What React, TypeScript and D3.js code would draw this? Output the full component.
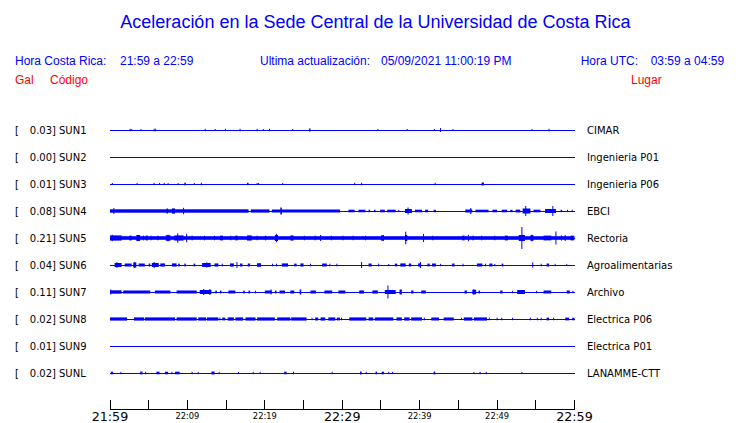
import React from "react";
import * as d3 from "d3";

// ---------- data ----------
const title = "Aceleración en la Sede Central de la Universidad de Costa Rica";
const horaCR = "21:59 a 22:59";
const horaUTC = "03:59 a 04:59";
const actualizacion = "05/09/2021 11:00:19 PM";

const codes = ["SUN1", "SUN2", "SUN3", "SUN4", "SUN5", "SUN6", "SUN7", "SUN8", "SUN9", "SUNL"];
const peakGal = ["0.03", "0.00", "0.01", "0.08", "0.21", "0.04", "0.11", "0.02", "0.01", "0.02"];
const places = [
  "CIMAR", "Ingenieria P01", "Ingenieria P06", "EBCI", "Rectoria",
  "Agroalimentarias", "Archivo", "Electrica P06", "Electrica P01", "LANAMME-CTT",
];

// time axis: minutes after 21:59
const tickMinutes = [0, 5, 10, 15, 20, 25, 30, 35, 40, 45, 50, 55, 60];
const tickLabels: Record<number, string> = { 0: "21:59", 10: "22:09", 20: "22:19", 30: "22:29", 40: "22:39", 50: "22:49", 60: "22:59" };
const majorLabels = [0, 30, 60];

// envelope of each trace: [minute, amp] = single spike, [start, end, amp] = burst
type B = number[];
const sun1: B[] = [[2.6, 1.2], [2.8, 1], [4.0, 1], [5.7, 1.3], [5.9, 1.3], [12.3, 1.2], [13.6, 1], [14.9, 1.2], [16.8, 1.2], [19.0, 1.2], [19.8, 1], [20.6, 1.2], [23.6, 1], [25.7, 25.9, 1.5], [34.6, 1], [38.4, 1], [41.9, 1], [42.7, 2], [44.3, 1], [54.5, 1], [56.7, 1.3]];
const sun2: B[] = [];
const sun3: B[] = [[0.3, 1], [3.5, 1], [5.7, 1.2], [6.4, 1], [7.0, 1.2], [7.5, 1], [8.8, 1], [9.6, 9.8, 1.3], [10.9, 1], [11.8, 1.3], [17.7, 17.9, 1.2], [19.0, 1], [19.2, 1], [22.3, 1], [31.6, 1.2], [32.5, 1.3], [42.0, 1.2], [48.0, 48.3, 1.5]];
const sun4: B[] = [
  [0, 17.9, 1.7], [18.2, 20.6, 1.6], [20.9, 29.7, 1.5], [0.5, 3], [7.3, 7.5, 2.5], [8.0, 8.4, 2.6], [9.5, 3.2], [22.0, 22.2, 3.5],
  [30.8, 31.6, 1.3], [32.1, 33.0, 1.3], [33.4, 33.6, 1.3], [34.1, 34.3, 1.2], [34.9, 35.5, 1.3], [35.8, 36.9, 1.3], [37.3, 1.2],
  [38.1, 39.0, 2], [38.5, 3.5], [39.4, 40.3, 1.3], [40.7, 41.1, 1.3], [41.8, 42.1, 1.2],
  [45.9, 46.8, 1.5], [46.6, 3], [47.2, 48.9, 1.3], [49.4, 50.0, 1.3], [50.6, 51.3, 1.3], [51.7, 52.0, 1.2], [52.4, 53.0, 1.4],
  [53.3, 54.3, 2.5], [53.7, 5], [54.7, 55.6, 1.3], [56.2, 57.6, 2], [57.2, 5], [58.2, 58.4, 1.2], [59.1, 1.2], [59.7, 1.2],
];
const sun5: B[] = [
  [0, 60, 1.8], [0, 1.5, 2.6], [0.3, 3.2], [2.5, 2.8, 2.4], [3.4, 3.9, 3], [4.3, 2.4], [4.6, 4.9, 2.4], [5.3, 2.3], [6.2, 2.3],
  [7.2, 7.8, 2.8], [7.5, 3.4], [8.3, 9.5, 2.6], [8.75, 4.7], [9.9, 4.2], [10.6, 2.4], [12.2, 2.3], [13.5, 2.3], [14.2, 14.6, 2.4],
  [15.6, 2.3], [16.2, 16.5, 2.4], [17.7, 18.3, 2.6], [19.0, 2.3], [20.1, 2.4], [21.3, 21.7, 3], [21.5, 4.2], [23.3, 23.7, 2.6],
  [25.1, 2.3], [26.5, 2.4], [27.2, 3], [28.6, 2.3], [30.1, 2.3], [31.4, 2.3], [33.0, 2.3], [35.0, 35.4, 2.6], [35.3, 3],
  [38.1, 38.4, 3], [38.2, 6.3], [40.5, 4], [41.7, 2.3], [45.5, 45.8, 2.4], [46.3, 3.2], [46.9, 2.4], [48.0, 2.3], [49.7, 2.3],
  [51.0, 51.4, 2.4], [52.8, 53.6, 3], [53.2, 11], [54.3, 54.7, 2.8], [54.5, 3.4], [56.0, 57.0, 2.4], [57.6, 6.5], [58.3, 2.6],
  [58.8, 3], [59.5, 59.9, 2.4],
];
const sun6: B[] = [
  [0.6, 1.5, 2], [0.9, 3], [1.9, 2.8, 1.5], [3.0, 3.4, 2.5], [3.2, 3], [3.7, 4.5, 1.5], [5.0, 5.2, 1.5], [5.4, 6.3, 2], [5.7, 3],
  [6.5, 7.1, 1.6], [8.0, 8.6, 1.6], [8.8, 9.0, 1.4], [9.6, 9.8, 1.4], [10.8, 11.0, 1.4], [11.9, 13.0, 2], [12.5, 2.6],
  [13.5, 14.0, 1.6], [14.5, 1.4], [15.5, 16.0, 1.6], [16.4, 3], [16.8, 17.1, 1.5], [17.8, 18.1, 1.5], [19.0, 19.5, 1.8],
  [21.0, 1.3], [21.5, 1.3], [22.2, 23.0, 1.6], [23.8, 24.1, 1.4], [24.6, 25.0, 1.6], [25.9, 1.3], [27.4, 28.0, 1.5], [28.4, 1.3],
  [29.3, 1.3], [32.5, 3], [33.4, 33.8, 1.5], [34.7, 1.4], [36.0, 1], [36.8, 37.1, 1.4], [37.5, 38.2, 1.6], [38.6, 38.9, 1.5],
  [39.8, 40.2, 1.6], [40.1, 3], [41.0, 41.3, 1.4], [41.6, 42.1, 1.5], [42.7, 1.2], [44.2, 44.5, 1.5], [45.6, 1.3],
  [47.4, 48.1, 1.5], [48.5, 1.3], [49.0, 49.4, 1.5], [49.7, 1.2], [50.6, 50.8, 1.4], [54.6, 2.6], [55.7, 1.3], [56.4, 56.7, 1.5],
  [57.5, 1.2], [59.0, 1.1],
];
const sun7: B[] = [
  [0, 1.5, 1.7], [0.1, 2.5], [1.7, 5.2, 1.5], [5.8, 7.8, 1.5], [8.6, 11.2, 1.5], [11.6, 13.1, 2], [12.1, 3], [12.9, 3],
  [13.6, 13.8, 1.4], [14.2, 14.4, 1.4], [15.3, 16.2, 1.5], [17.2, 17.4, 1.4], [17.9, 18.1, 1.4], [18.8, 1.3],
  [20.0, 20.9, 1.5], [20.8, 2.5], [21.3, 21.5, 1.4], [21.9, 22.6, 1.5], [23.3, 23.8, 1.5], [24.5, 24.7, 2.5],
  [25.9, 26.6, 1.5], [27.7, 28.7, 1.5], [29.5, 30.4, 1.5], [32.2, 32.8, 1.6], [33.9, 34.6, 1.6], [35.5, 36.9, 2], [35.9, 6.5],
  [37.4, 37.7, 2.5], [38.9, 39.2, 1.5], [40.2, 40.8, 1.5], [45.8, 46.1, 1.5], [46.8, 47.3, 2.2], [47.0, 2.8], [47.6, 47.8, 1.4],
  [50.4, 50.7, 1.5], [52.0, 1.2], [52.6, 53.6, 2], [55.1, 1.2], [56.0, 57.0, 1.5], [59.0, 59.4, 1.5], [59.8, 1.3],
];
const sun8: B[] = [
  [0, 2.2, 1.6], [3.1, 4.4, 1.6], [4.5, 8.4, 1.6], [8.6, 11.2, 1.6], [11.4, 12.4, 1.6], [12.5, 14.0, 1.6], [14.2, 1.4],
  [14.5, 14.9, 1.4], [15.2, 16.0, 1.6], [16.2, 17.2, 1.6], [17.5, 18.8, 1.6], [19.0, 21.3, 1.6], [21.6, 23.3, 1.6],
  [23.4, 25.4, 1.6], [26.1, 1.3], [26.5, 26.9, 1.5], [27.2, 27.8, 1.6], [28.2, 29.1, 1.6], [29.3, 29.7, 1.4], [29.9, 1.3],
  [30.9, 33.1, 1.6], [33.4, 34.0, 1.6], [34.2, 36.6, 1.6], [37.0, 37.7, 1.6], [38.0, 38.7, 1.6], [38.9, 40.3, 1.6],
  [40.6, 1.3], [41.5, 42.5, 1.5], [43.1, 44.4, 1.5], [45.4, 1.2], [45.7, 46.8, 1.6], [47.0, 48.7, 1.6], [49.0, 1.3],
  [50.0, 1.3], [50.6, 1.3], [52.0, 1.2], [54.3, 1.3], [55.2, 1.3], [55.7, 1.3], [56.4, 56.7, 1.4], [57.3, 1.3],
  [58.8, 59.3, 1.4], [59.7, 60, 1.3],
];
const sun9: B[] = [];
const sunl: B[] = [
  [0.1, 0.4, 1.3], [1.4, 1.2], [3.9, 4.2, 1.4], [4.6, 1.2], [6.0, 6.4, 1.3], [7.1, 7.5, 1.3], [8.0, 1.2], [8.4, 9.0, 1.3],
  [10.6, 1.2], [11.4, 1.1], [13.1, 13.5, 1.5], [14.1, 1.2], [16.6, 1], [18.5, 1.2], [19.4, 1.1], [22.5, 22.8, 1.3],
  [23.7, 1.2], [28.7, 1.2], [32.3, 32.5, 1.5], [33.1, 1.2], [34.3, 34.5, 1.3], [35.1, 35.4, 1.3], [36.0, 1.2], [36.5, 1.1],
  [41.8, 42.0, 1.4], [47.0, 1.1], [47.8, 1.2], [48.6, 1.2], [53.2, 1.1],
];
const envelopes: B[][] = [sun1, sun2, sun3, sun4, sun5, sun6, sun7, sun8, sun9, sunl];

// ---------- component ----------
const W = 740;
const H = 423;
const BLUE = "#0000ff";
const RED = "#ff0000";
const HEAD = "'Liberation Sans', Arial, sans-serif";
const LAB = "'DejaVu Sans', sans-serif";

export default function App() {
  const x = d3.scaleLinear().domain([0, 60]).range([110, 574.5]);
  const y = d3.scalePoint<string>().domain(codes).range([130, 373]);
  const amp = d3.scaleLinear().domain([0, 10]).range([0, 10]);
  const axisY = 409;

  return (
    <svg width={W} height={H} style={{ position: "absolute", left: 0, top: 0, background: "#fff" }}>
      <rect x={0} y={0} width={W} height={H} fill="#fff" />
      <text x={375.5} y={28} textAnchor="middle" fontFamily={HEAD} fontSize={18} fill={BLUE}>{title}</text>

      <g fontFamily={HEAD} fontSize={12} fill={BLUE}>
        <text x={15} y={65}>Hora Costa Rica:</text>
        <text x={120} y={65}>{horaCR}</text>
        <text x={260} y={65}>Ultima actualización:</text>
        <text x={381} y={65}>{actualizacion}</text>
        <text x={580.7} y={65}>Hora UTC:</text>
        <text x={650.7} y={65}>{horaUTC}</text>
      </g>
      <g fontFamily={HEAD} fontSize={12} fill={RED}>
        <text x={15} y={84}>Gal</text>
        <text x={50} y={84}>Código</text>
        <text x={631} y={84}>Lugar</text>
      </g>

      {codes.map((c, i) => {
        const cy = y(c)!;
        return (
          <g key={c}>
            <g fontFamily={LAB} fontSize={10} fill="#000">
              <text x={15} y={cy + 3.6}>[</text>
              <text x={56} y={cy + 3.6} textAnchor="end">{peakGal[i] + "]"}</text>
              <text x={59} y={cy + 3.6}>{c}</text>
              <text x={587} y={cy + 3.6}>{places[i]}</text>
            </g>
            <line x1={x(0)} x2={x(60)} y1={cy} y2={cy} stroke={BLUE} strokeWidth={1} shapeRendering="crispEdges" />
            {envelopes[i].map((b, k) => {
              const s = b[0];
              const e = b.length === 3 ? b[1] : b[0];
              const a = amp(b.length === 3 ? b[2] : b[1]);
              const x0 = x(s);
              const w = Math.max(1, x(e) - x0);
              return <rect key={k} x={b.length === 3 ? x0 : x0 - 0.5} y={cy - a} width={w} height={2 * a} fill={BLUE} />;
            })}
          </g>
        );
      })}

      <g stroke="#000" strokeWidth={1} shapeRendering="crispEdges">
        <line x1={x(0)} x2={x(60)} y1={axisY} y2={axisY} />
        {tickMinutes.map((m) => (
          <line key={m} x1={x(m)} x2={x(m)} y1={axisY - 9} y2={axisY} />
        ))}
      </g>
      <g fontFamily={LAB} fill="#000" textAnchor="middle">
        {Object.keys(tickLabels).map((k) => {
          const m = +k;
          const big = majorLabels.includes(m);
          return (
            <text key={k} x={x(m)} y={big ? 420.5 : 418.5} fontSize={big ? 12.7 : 8.3}>{tickLabels[m]}</text>
          );
        })}
      </g>
    </svg>
  );
}
